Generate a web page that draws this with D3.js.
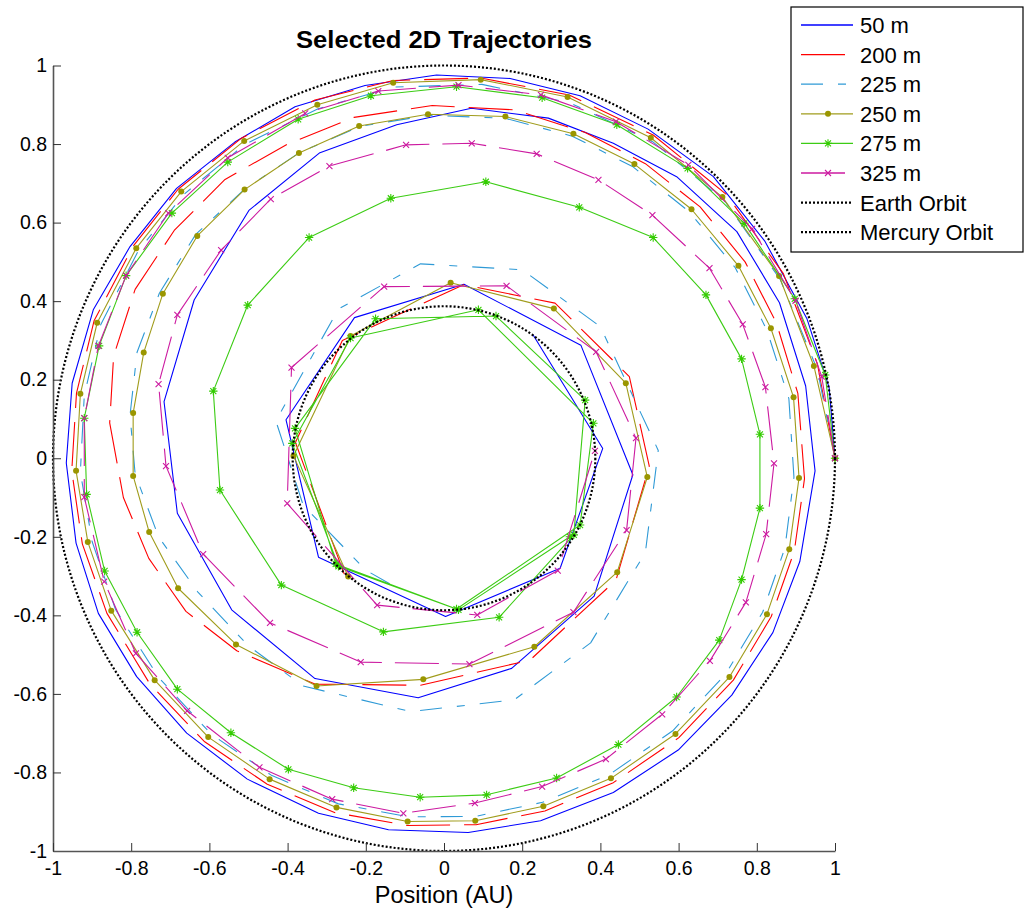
<!DOCTYPE html>
<html>
<head>
<meta charset="utf-8">
<script src="https://cdn.jsdelivr.net/npm/d3@7/dist/d3.min.js"></script>
<style>
  html, body { margin: 0; padding: 0; background: #fff; }
  svg { display: block; font-family: "Liberation Sans", Arial, sans-serif; }
</style>
</head>
<body>
<svg id="chart" width="1025" height="909"></svg>
<script>
// ---------- data (positions in AU) ----------
const tickValues = [-1, -0.8, -0.6, -0.4, -0.2, 0, 0.2, 0.4, 0.6, 0.8, 1];
const seriesNames = ["50 m", "200 m", "225 m", "250 m", "275 m", "325 m", "Earth Orbit", "Mercury Orbit"];
const earthRadius = 1.0;
const mercuryRadius = 0.387;

const path50 = [[1,0],[0.985,0.18],[0.928,0.356],[0.821,0.552],[0.689,0.717],[0.522,0.838],[0.348,0.923],[0.169,0.967],[-0.019,0.976],[-0.202,0.949],[-0.381,0.895],[-0.535,0.805],[-0.684,0.687],[-0.803,0.539],[-0.897,0.378],[-0.951,0.191],[-0.966,-0.012],[-0.941,-0.216],[-0.884,-0.395],[-0.786,-0.556],[-0.658,-0.700],[-0.503,-0.817],[-0.321,-0.904],[-0.142,-0.946],[0.062,-0.953],[0.247,-0.923],[0.433,-0.851],[0.599,-0.743],[0.736,-0.603],[0.841,-0.444],[0.910,-0.263],[0.949,-0.032],[0.925,0.184],[0.858,0.396],[0.749,0.577],[0.595,0.717],[0.433,0.802],[0.267,0.866],[0.07,0.891],[-0.121,0.849],[-0.319,0.777],[-0.499,0.631],[-0.639,0.403],[-0.716,0.144],[-0.682,-0.14],[-0.543,-0.386],[-0.33,-0.561],[-0.066,-0.61],[0.173,-0.535],[0.384,-0.351],[0.483,-0.042],[0.350,0.288],[0.051,0.443],[-0.229,0.358],[-0.404,0.098],[-0.321,-0.252],[0.004,-0.403],[0.297,-0.28],[0.406,0.025],[0.228,0.314]];

const path200 = [[1,0],[0.955,0.24],[0.868,0.47],[0.722,0.672],[0.535,0.823],[0.32,0.925],[0.095,0.968],[-0.13,0.962],[-0.33,0.912],[-0.518,0.815],[-0.68,0.685],[-0.795,0.54],[-0.895,0.35],[-0.94,0.165],[-0.952,-0.032],[-0.925,-0.218],[-0.862,-0.395],[-0.752,-0.575],[-0.612,-0.722],[-0.452,-0.83],[-0.28,-0.902],[-0.094,-0.935],[0.082,-0.933],[0.258,-0.898],[0.433,-0.826],[0.6,-0.712],[0.74,-0.565],[0.837,-0.403],[0.896,-0.236],[0.922,-0.052],[0.905,0.165],[0.85,0.345],[0.77,0.50],[0.655,0.64],[0.515,0.75],[0.36,0.83],[0.18,0.887],[-0.03,0.898],[-0.23,0.868],[-0.40,0.80],[-0.56,0.71],[-0.69,0.58],[-0.79,0.43],[-0.845,0.26],[-0.855,0.09],[-0.82,-0.10],[-0.755,-0.255],[-0.66,-0.39],[-0.53,-0.49],[-0.33,-0.575],[-0.06,-0.578],[0.22,-0.514],[0.44,-0.31],[0.525,-0.02],[0.474,0.208],[0.284,0.395],[0.05,0.442],[-0.26,0.30],[-0.38,0.04],[-0.255,-0.295]];

const path225 = [[1,0],[0.955,0.225],[0.86,0.455],[0.718,0.655],[0.535,0.805],[0.322,0.905],[0.097,0.952],[-0.128,0.945],[-0.322,0.89],[-0.508,0.8],[-0.665,0.672],[-0.782,0.528],[-0.878,0.34],[-0.92,0.16],[-0.93,-0.035],[-0.9,-0.212],[-0.84,-0.385],[-0.73,-0.558],[-0.595,-0.703],[-0.44,-0.808],[-0.27,-0.88],[-0.09,-0.913],[0.08,-0.912],[0.252,-0.876],[0.422,-0.806],[0.585,-0.694],[0.72,-0.55],[0.815,-0.392],[0.872,-0.228],[0.895,-0.048],[0.882,0.152],[0.826,0.326],[0.745,0.485],[0.627,0.628],[0.482,0.743],[0.328,0.82],[0.155,0.866],[-0.04,0.873],[-0.215,0.845],[-0.37,0.778],[-0.51,0.685],[-0.635,0.57],[-0.728,0.42],[-0.785,0.27],[-0.803,0.11],[-0.79,-0.04],[-0.73,-0.2],[-0.63,-0.34],[-0.5,-0.478],[-0.36,-0.58],[-0.085,-0.645],[0.18,-0.615],[0.375,-0.47],[0.515,-0.24],[0.548,0.02],[0.40,0.335],[0.2,0.48],[-0.06,0.495],[-0.27,0.38],[-0.43,0.095],[-0.36,-0.12],[-0.2,-0.285],[-0.12,-0.33]];

const path250 = [[1,0],[0.946,0.235],[0.857,0.464],[0.712,0.665],[0.529,0.816],[0.316,0.92],[0.094,0.964],[-0.13,0.956],[-0.324,0.9],[-0.511,0.808],[-0.672,0.679],[-0.787,0.535],[-0.887,0.345],[-0.930,0.164],[-0.941,-0.032],[-0.911,-0.213],[-0.851,-0.388],[-0.740,-0.565],[-0.603,-0.710],[-0.446,-0.817],[-0.275,-0.889],[-0.093,-0.925],[0.080,-0.923],[0.254,-0.886],[0.427,-0.815],[0.592,-0.702],[0.730,-0.557],[0.826,-0.397],[0.883,-0.232],[0.908,-0.050],[0.894,0.155],[0.836,0.331],[0.753,0.49],[0.633,0.634],[0.487,0.749],[0.331,0.826],[0.157,0.870],[-0.041,0.876],[-0.217,0.846],[-0.371,0.777],[-0.510,0.684],[-0.631,0.566],[-0.719,0.419],[-0.768,0.269],[-0.795,0.115],[-0.795,-0.045],[-0.754,-0.188],[-0.680,-0.331],[-0.532,-0.474],[-0.326,-0.580],[-0.053,-0.563],[0.231,-0.480],[0.443,-0.290],[0.520,-0.048],[0.465,0.191],[0.281,0.381],[0.017,0.447],[-0.239,0.311],[-0.385,0.006],[-0.245,-0.301]];

const path275 = [[1,0],[0.975,0.212],[0.897,0.406],[0.768,0.598],[0.623,0.738],[0.442,0.849],[0.251,0.918],[0.032,0.946],[-0.187,0.923],[-0.373,0.863],[-0.553,0.754],[-0.696,0.624],[-0.813,0.465],[-0.882,0.286],[-0.920,0.102],[-0.914,-0.092],[-0.868,-0.287],[-0.785,-0.443],[-0.682,-0.588],[-0.545,-0.699],[-0.398,-0.792],[-0.231,-0.839],[-0.061,-0.863],[0.109,-0.857],[0.288,-0.814],[0.446,-0.729],[0.595,-0.608],[0.704,-0.463],[0.761,-0.309],[0.808,-0.127],[0.808,0.061],[0.761,0.253],[0.670,0.416],[0.535,0.562],[0.346,0.639],[0.107,0.704],[-0.136,0.662],[-0.345,0.562],[-0.502,0.390],[-0.590,0.171],[-0.573,-0.081],[-0.416,-0.323],[-0.155,-0.442],[0.141,-0.405],[0.332,-0.195],[0.361,0.148],[0.133,0.362],[-0.175,0.355],[-0.381,0.076],[-0.277,-0.269],[0.032,-0.384],[0.348,-0.17],[0.382,0.089],[0.088,0.378],[-0.239,0.306],[-0.388,0.038],[-0.27,-0.275],[0.037,-0.386],[0.322,-0.2]];

const path325 = [[1,0],[0.966,0.208],[0.899,0.401],[0.788,0.584],[0.625,0.747],[0.440,0.857],[0.248,0.925],[0.037,0.950],[-0.168,0.935],[-0.355,0.878],[-0.553,0.765],[-0.705,0.624],[-0.813,0.465],[-0.884,0.286],[-0.920,0.102],[-0.920,-0.099],[-0.869,-0.314],[-0.788,-0.497],[-0.657,-0.643],[-0.472,-0.787],[-0.286,-0.868],[-0.104,-0.904],[0.079,-0.878],[0.251,-0.836],[0.414,-0.766],[0.558,-0.652],[0.680,-0.516],[0.772,-0.367],[0.824,-0.193],[0.844,-0.013],[0.822,0.181],[0.764,0.341],[0.679,0.484],[0.533,0.619],[0.395,0.709],[0.237,0.775],[0.071,0.802],[-0.097,0.798],[-0.293,0.744],[-0.443,0.660],[-0.570,0.530],[-0.682,0.365],[-0.730,0.189],[-0.711,-0.020],[-0.616,-0.244],[-0.445,-0.419],[-0.213,-0.519],[0.065,-0.524],[0.331,-0.392],[0.467,-0.183],[0.491,0.051],[0.389,0.271],[0.160,0.439],[-0.153,0.437],[-0.390,0.231],[-0.401,-0.115],[-0.171,-0.374],[0.085,-0.399],[0.291,-0.286],[0.386,0.019]];

// ---------- styles ----------
const styles = {
  "50 m":  {data: path50,  color: "#0000ff", dash: null,          marker: null},
  "200 m": {data: path200, color: "#ff0000", dash: "44,14",       marker: null},
  "225 m": {data: path225, color: "#2f9ad6", dash: "22,15,8,15",  marker: null},
  "250 m": {data: path250, color: "#a09c1c", dash: null,          marker: "dot", mcolor: "#9a9600"},
  "275 m": {data: path275, color: "#3ccc14", dash: null,          marker: "star", mcolor: "#33cc00"},
  "325 m": {data: path325, color: "#cc1aa0", dash: "44,13",       marker: "x", mcolor: "#cc1aa0"}
};

// ---------- layout ----------
const svg = d3.select("#chart");
const x = d3.scaleLinear().domain([-1, 1]).range([53, 835]);
const y = d3.scaleLinear().domain([-1, 1]).range([851, 65.5]);

const line = d3.line().x(d => x(d[0])).y(d => y(d[1]));
const fmt = d => d === 0 ? "0" : String(+d.toFixed(1));

function drawMarker(g, type, cx, cy, color) {
  if (type === "dot") {
    g.append("circle").attr("cx", cx).attr("cy", cy).attr("r", 3).attr("fill", color);
  } else if (type === "star") {
    const s = 4.2, d = 3;
    const p = `M${cx-s},${cy}L${cx+s},${cy}M${cx},${cy-s}L${cx},${cy+s}M${cx-d},${cy-d}L${cx+d},${cy+d}M${cx-d},${cy+d}L${cx+d},${cy-d}`;
    g.append("path").attr("d", p).attr("stroke", color).attr("stroke-width", 1.1).attr("fill", "none");
  } else if (type === "x") {
    const s = 3;
    const p = `M${cx-s},${cy-s}L${cx+s},${cy+s}M${cx-s},${cy+s}L${cx+s},${cy-s}`;
    g.append("path").attr("d", p).attr("stroke", color).attr("stroke-width", 1.1).attr("fill", "none");
  }
}

// trajectories
const plot = svg.append("g");
for (const name of seriesNames.slice(0, 6)) {
  const st = styles[name];
  plot.append("path")
    .attr("d", line(st.data))
    .attr("fill", "none")
    .attr("stroke", st.color)
    .attr("stroke-width", 1.1)
    .attr("stroke-dasharray", st.dash)
    .attr("stroke-linejoin", "round");
  if (st.marker) {
    const mg = plot.append("g");
    st.data.forEach(d => drawMarker(mg, st.marker, x(d[0]), y(d[1]), st.mcolor));
  }
}

// orbits
[earthRadius, mercuryRadius].forEach(r => {
  plot.append("ellipse")
    .attr("cx", x(0)).attr("cy", y(0))
    .attr("rx", x(r) - x(0)).attr("ry", y(0) - y(r))
    .attr("fill", "none").attr("stroke", "#000")
    .attr("stroke-width", 2.2).attr("stroke-dasharray", "2,2");
});

// axes
const yAxis = d3.axisLeft(y).tickValues(tickValues).tickFormat(fmt).tickSizeInner(-8).tickSizeOuter(0).tickPadding(6);
const xAxis = d3.axisBottom(x).tickValues(tickValues).tickFormat(fmt).tickSizeInner(-8).tickSizeOuter(0).tickPadding(10);

const gy = svg.append("g").attr("transform", "translate(53,0)").call(yAxis);
const gx = svg.append("g").attr("transform", "translate(0,851)").call(xAxis);
[gx, gy].forEach(g => {
  g.select(".domain").attr("stroke", "#555").attr("stroke-width", 1.6);
  g.selectAll(".tick line").attr("stroke", "#333").attr("stroke-width", 1);
  g.selectAll(".tick text").attr("fill", "#000").attr("font-size", "19.5px")
    .attr("font-family", "'Liberation Sans', Arial, sans-serif");
});

// title and label
svg.append("text").attr("x", 444).attr("y", 48).attr("text-anchor", "middle")
  .attr("font-size", "24px").attr("font-weight", "bold")
  .attr("textLength", 296).attr("lengthAdjust", "spacingAndGlyphs")
  .text("Selected 2D Trajectories");
svg.append("text").attr("x", 444).attr("y", 903).attr("text-anchor", "middle")
  .attr("font-size", "23.5px").text("Position (AU)");

// legend
const lg = svg.append("g");
lg.append("rect").attr("x", 791).attr("y", 7).attr("width", 232).attr("height", 245)
  .attr("fill", "#fff").attr("stroke", "#000").attr("stroke-width", 1.2);
seriesNames.forEach((name, i) => {
  const ly = 25 + i * 29.6;
  const st = styles[name] || {color: "#000", dash: "2,2", marker: null};
  const isOrbit = !styles[name];
  lg.append("line").attr("x1", 801).attr("x2", 853).attr("y1", ly).attr("y2", ly)
    .attr("stroke", st.color).attr("stroke-width", isOrbit ? 2.2 : 1.3)
    .attr("stroke-dasharray", st.dash);
  if (st.marker) drawMarker(lg, st.marker, 828, ly, st.mcolor);
  lg.append("text").attr("x", 860).attr("y", ly).attr("dy", "0.36em")
    .attr("font-size", "22px").text(name);
});
</script>
</body>
</html>
